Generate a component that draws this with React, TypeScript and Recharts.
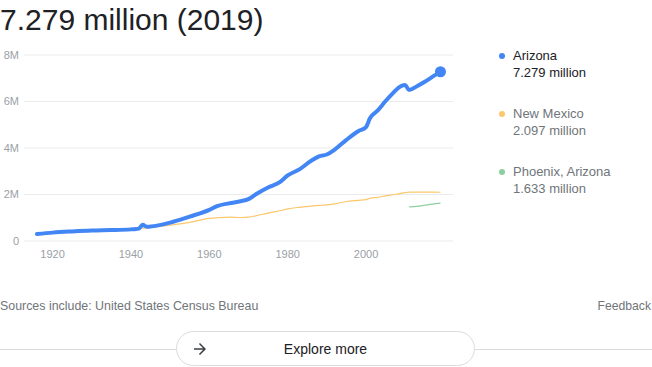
import { CartesianGrid, Line, LineChart, XAxis, YAxis } from "recharts";

// population in millions
const years = [
  1916, 1920, 1925, 1930, 1935, 1940, 1941, 1942, 1943, 1944, 1945, 1950, 1955, 1960, 1962, 1965, 1968, 1970,
  1972, 1975, 1978, 1980, 1983, 1986, 1988, 1990, 1992, 1995, 1998, 2000, 2001, 2003, 2005, 2007, 2008, 2010,
  2011, 2013, 2015, 2017, 2019,
];
const arizona = [
  0.3, 0.36, 0.41, 0.45, 0.47, 0.5, 0.51, 0.53, 0.7, 0.61, 0.62, 0.79, 1.05, 1.34, 1.5, 1.62, 1.71, 1.8, 2.02,
  2.3, 2.53, 2.82, 3.08, 3.45, 3.64, 3.72, 3.93, 4.35, 4.72, 4.9, 5.28, 5.62, 6.02, 6.38, 6.55, 6.71, 6.49, 6.66,
  6.85, 7.07, 7.279,
];
const newMexico = [
  0.33, 0.36, 0.39, 0.43, 0.48, 0.53, 0.53, 0.54, 0.55, 0.56, 0.58, 0.68, 0.8, 0.97, 1.0, 1.03, 1.01, 1.03, 1.09,
  1.2, 1.3, 1.38, 1.45, 1.5, 1.53, 1.55, 1.6, 1.7, 1.75, 1.78, 1.84, 1.88, 1.94, 1.99, 2.02, 2.08, 2.1, 2.1, 2.1,
  2.1, 2.097,
];
const phoenix = [
  null, null, null, null, null, null, null, null, null, null, null, null, null, null, null, null, null, null, null,
  null, null, null, null, null, null, null, null, null, null, null, null, null, null, null, null, null, 1.47, 1.49,
  1.54, 1.59, 1.633,
];
const yTicks = [0, 2, 4, 6, 8];
const xTicks = [1920, 1940, 1960, 1980, 2000];

const legend = [
  { name: "Arizona", value: "7.279 million", color: "#4285f4", text: "#202124" },
  { name: "New Mexico", value: "2.097 million", color: "#fbc76c", text: "#70757a" },
  { name: "Phoenix, Arizona", value: "1.633 million", color: "#8ccfa0", text: "#70757a" },
];

const font = '"Liberation Sans", Arial, sans-serif';

export default function App() {
  const data = years.map((year, i) => ({
    year,
    arizona: arizona[i],
    newMexico: newMexico[i],
    phoenix: phoenix[i],
  }));
  const last = data.length - 1;

  return (
    <div
      style={{
        position: "fixed",
        left: 0,
        top: 0,
        width: 652,
        height: 367,
        background: "#fff",
        overflow: "hidden",
        fontFamily: font,
      }}
    >
      <div style={{ position: "absolute", left: 0, top: 3, fontSize: 30, lineHeight: "34px", color: "#202124" }}>
        7.279 million (2019)
      </div>

      <div style={{ position: "absolute", left: 0, top: 0 }}>
        <LineChart
          width={470}
          height={270}
          data={data}
          margin={{ top: 55, right: 17, left: 0, bottom: 1 }}
          style={{ fontFamily: font }}
        >
          <CartesianGrid vertical={false} stroke="#ebebeb" />
          <XAxis
            dataKey="year"
            type="number"
            domain={[1912.7, 2022.2]}
            ticks={xTicks}
            height={28}
            tickLine={false}
            axisLine={false}
            tickSize={6}
            tickMargin={3}
            tick={{ fontSize: 11, fill: "#9aa0a6" }}
          />
          <YAxis
            domain={[0, 8]}
            ticks={yTicks}
            width={24}
            tickLine={false}
            axisLine={false}
            tickSize={3}
            tickMargin={2}
            tick={{ fontSize: 11, fill: "#9aa0a6" }}
            tickFormatter={(v: number) => (v === 0 ? "0" : `${v}M`)}
          />
          <Line
            type="monotone"
            dataKey="newMexico"
            stroke="#fbc76c"
            strokeWidth={1.2}
            dot={false}
            activeDot={false}
            isAnimationActive={false}
          />
          <Line
            type="monotone"
            dataKey="phoenix"
            stroke="#8ccfa0"
            strokeWidth={1.2}
            dot={false}
            activeDot={false}
            isAnimationActive={false}
          />
          <Line
            type="monotone"
            dataKey="arizona"
            stroke="#4285f4"
            strokeWidth={4}
            strokeLinecap="round"
            strokeLinejoin="round"
            activeDot={false}
            isAnimationActive={false}
            dot={(p: any) =>
              p.index === last ? (
                <circle key="end" cx={p.cx} cy={p.cy} r={5.5} fill="#4285f4" />
              ) : (
                <g key={`d${p.index}`} />
              )
            }
          />
        </LineChart>
      </div>

      {legend.map((l, i) => (
        <div key={l.name} style={{ position: "absolute", left: 499, top: 48 + i * 58 }}>
          <div
            style={{
              position: "absolute",
              left: 0,
              top: 5,
              width: 6,
              height: 6,
              borderRadius: 3,
              background: l.color,
            }}
          />
          <div style={{ position: "absolute", left: 14, top: 0, fontSize: 13, lineHeight: "16.5px", color: l.text, whiteSpace: "nowrap" }}>
            {l.name}
            <br />
            {l.value}
          </div>
        </div>
      ))}

      <div style={{ position: "absolute", left: 0, top: 299, fontSize: 12.4, lineHeight: "15px", color: "#70757a" }}>
        Sources include: United States Census Bureau
      </div>
      <div style={{ position: "absolute", right: 1, top: 299, fontSize: 12.2, lineHeight: "15px", color: "#70757a" }}>
        Feedback
      </div>

      <div style={{ position: "absolute", left: 0, top: 349, width: 652, height: 1, background: "#dadce0" }} />
      <div
        style={{
          position: "absolute",
          left: 176,
          top: 331,
          width: 297,
          height: 33,
          border: "1px solid #dadce0",
          borderRadius: 18,
          background: "#fff",
          display: "flex",
          alignItems: "center",
          justifyContent: "center",
          fontSize: 14,
          color: "#202124",
        }}
      >
        <svg
          width={18}
          height={18}
          viewBox="0 0 24 24"
          style={{ position: "absolute", left: 14, top: 8 }}
        >
          <path d="M12 4l-1.41 1.41L16.17 11H4v2h12.17l-5.58 5.59L12 20l8-8z" fill="#3c4043" />
        </svg>
        Explore more
      </div>
    </div>
  );
}
